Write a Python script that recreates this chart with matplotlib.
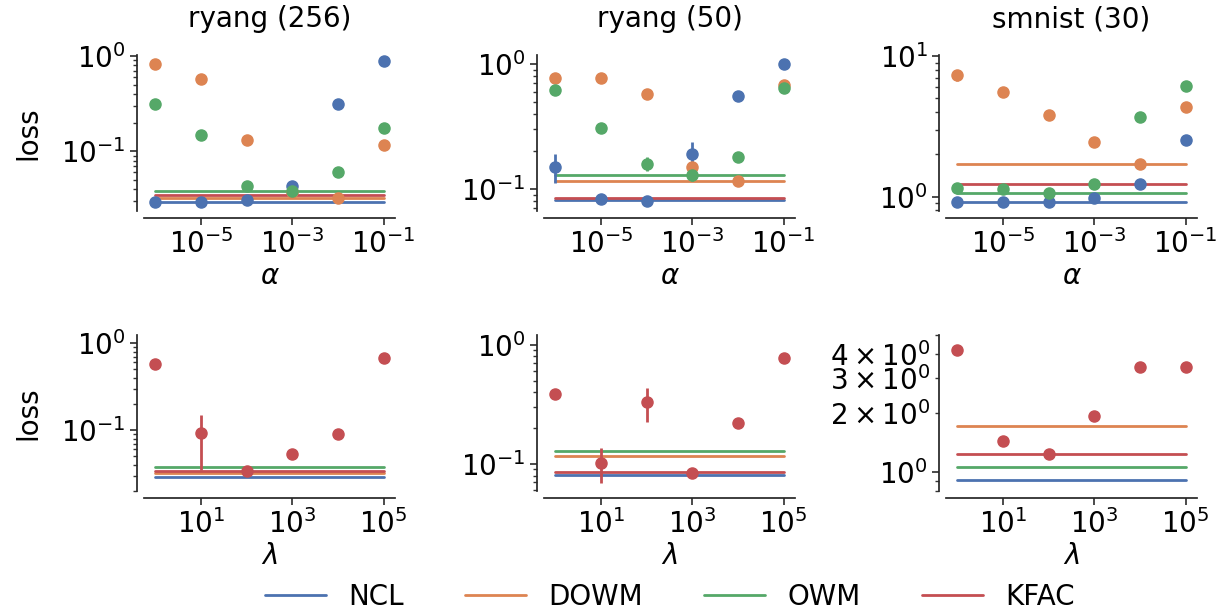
import matplotlib
matplotlib.use("Agg")
import matplotlib.pyplot as plt
import matplotlib.ticker as mticker
import seaborn as sns

sns.set_theme(style="ticks")
plt.rcParams['font.family'] = ['DejaVu Sans']
plt.rcParams['font.size'] = 20
plt.rcParams['mathtext.fontset'] = 'dejavusans'
plt.rcParams['text.color'] = 'black'
plt.rcParams['axes.labelcolor'] = 'black'
plt.rcParams['axes.labelsize'] = 20
plt.rcParams['xtick.labelcolor'] = 'black'
plt.rcParams['ytick.labelcolor'] = 'black'

methods = ['NCL', 'DOWM', 'OWM', 'KFAC']
colors = sns.color_palette('deep', 4)

alphas = [1e-6, 1e-5, 1e-4, 1e-3, 1e-2, 1e-1]
lambdas = [1e0, 1e1, 1e2, 1e3, 1e4, 1e5]

# alpha sweeps (NCL, DOWM, OWM)
ryang256_ncl = [0.029, 0.029, 0.031, 0.043, 0.31, 0.88]
ryang256_dowm = [0.82, 0.57, 0.131, 0.037, 0.032, 0.116]
ryang256_owm = [0.31, 0.148, 0.043, 0.038, 0.060, 0.176]

ryang50_ncl = [0.151, 0.083, 0.080, 0.19, 0.55, 1.0]
ryang50_ncl_err = [0.04, 0.0, 0.0, 0.048, 0.0, 0.0]
ryang50_dowm = [0.77, 0.77, 0.58, 0.151, 0.116, 0.68]
ryang50_owm = [0.62, 0.305, 0.159, 0.128, 0.181, 0.64]
ryang50_owm_err = [0.0, 0.0, 0.02, 0.012, 0.018, 0.0]

smnist_ncl = [0.91, 0.91, 0.91, 0.97, 1.22, 2.54]
smnist_dowm = [7.3, 5.56, 3.81, 2.45, 1.71, 4.36]
smnist_dowm_err = [0.6, 0.0, 0.0, 0.0, 0.0, 0.0]
smnist_owm = [1.16, 1.13, 1.06, 1.22, 3.72, 6.1]

# lambda sweeps (KFAC)
ryang256_kfac = [0.57, 0.093, 0.034, 0.053, 0.090, 0.67]
ryang256_kfac_err = [0.06, 0.058, 0.0, 0.0, 0.0, 0.0]
ryang50_kfac = [0.39, 0.102, 0.33, 0.084, 0.22, 0.78]
ryang50_kfac_err = [0.03, 0.033, 0.105, 0.0, 0.0, 0.0]
smnist_kfac = [4.19, 1.44, 1.24, 1.93, 3.43, 3.43]
smnist_kfac_err = [0.0, 0.06, 0.0, 0.0, 0.0, 0.0]

# baselines: NCL, DOWM, OWM, KFAC
ryang256_base = [0.029, 0.032, 0.038, 0.0344]
ryang50_base = [0.081, 0.116, 0.128, 0.085]
smnist_base = [0.91, 1.71, 1.06, 1.24]

titles = ['ryang (256)', 'ryang (50)', 'smnist (30)']
top_ylims = [(0.0236, 1.025), (0.0665, 1.18), (0.79, 10.2)]
bot_ylims = [(0.020, 1.24), (0.0593, 1.21), (0.80, 5.0)]

fig = plt.figure(figsize=(12.25, 6.13), dpi=100)
lefts = [144 / 1225, 544 / 1225, 946 / 1225]
w, h = 251 / 1225, 156 / 613
bottoms = [1 - 211 / 613, 1 - 491 / 613]

top_data = [
    ([ryang256_ncl, ryang256_dowm, ryang256_owm], [None, None, None], ryang256_base),
    ([ryang50_ncl, ryang50_dowm, ryang50_owm], [ryang50_ncl_err, None, ryang50_owm_err], ryang50_base),
    ([smnist_ncl, smnist_dowm, smnist_owm], [None, smnist_dowm_err, None], smnist_base),
]
bot_data = [
    (ryang256_kfac, ryang256_kfac_err, ryang256_base),
    (ryang50_kfac, ryang50_kfac_err, ryang50_base),
    (smnist_kfac, smnist_kfac_err, smnist_base),
]

handles = []
for j in range(3):
    ax = fig.add_axes([lefts[j], bottoms[0], w, h])
    series, errs, base = top_data[j]
    for k in range(4):
        ln, = ax.plot([alphas[0], alphas[-1]], [base[k], base[k]], color=colors[k], lw=2, label=methods[k])
        if j == 0:
            handles.append(ln)
    for k in range(3):
        ax.errorbar(alphas, series[k], yerr=errs[k], fmt='o', color=colors[k], ms=8, elinewidth=2, capsize=0)
    ax.set_xscale('log')
    ax.set_yscale('log')
    ax.set_ylim(*top_ylims[j])
    ax.set_xticks([1e-5, 1e-3, 1e-1])
    ax.xaxis.set_minor_locator(mticker.NullLocator())
    ax.set_xlabel(r'$\alpha$', fontsize=20, labelpad=2)
    ax.set_title(titles[j], pad=20, fontsize=20)
    if j == 0:
        ax.set_ylabel('loss', fontsize=20, labelpad=14)
    sns.despine(ax=ax, offset=5)

    ax = fig.add_axes([lefts[j], bottoms[1], w, h])
    vals, err, base = bot_data[j]
    for k in range(4):
        ax.plot([lambdas[0], lambdas[-1]], [base[k], base[k]], color=colors[k], lw=2)
    ax.errorbar(lambdas, vals, yerr=err, fmt='o', color=colors[3], ms=8, elinewidth=2, capsize=0)
    ax.set_xscale('log')
    ax.set_yscale('log')
    ax.set_ylim(*bot_ylims[j])
    ax.set_xticks([1e1, 1e3, 1e5])
    ax.xaxis.set_minor_locator(mticker.NullLocator())
    ax.set_xlabel(r'$\lambda$', fontsize=20, labelpad=2)
    if j == 0:
        ax.set_ylabel('loss', fontsize=20, labelpad=14)
    sns.despine(ax=ax, offset=5)

for a in fig.axes:
    a.tick_params(axis='both', which='both', labelsize=20, labelcolor='black')
    a.tick_params(axis='both', which='major', length=5, width=1.25, color='0.2', pad=3)
    a.tick_params(axis='both', which='minor', length=3, width=1, color='0.2')

fig.legend(handles, methods, loc='center', bbox_to_anchor=(670 / 1225, 0.026), ncol=4,
           frameon=False, fontsize=20, handlelength=2.2, handletextpad=0.8, columnspacing=2.2)

fig.savefig('out.png', dpi=100)
